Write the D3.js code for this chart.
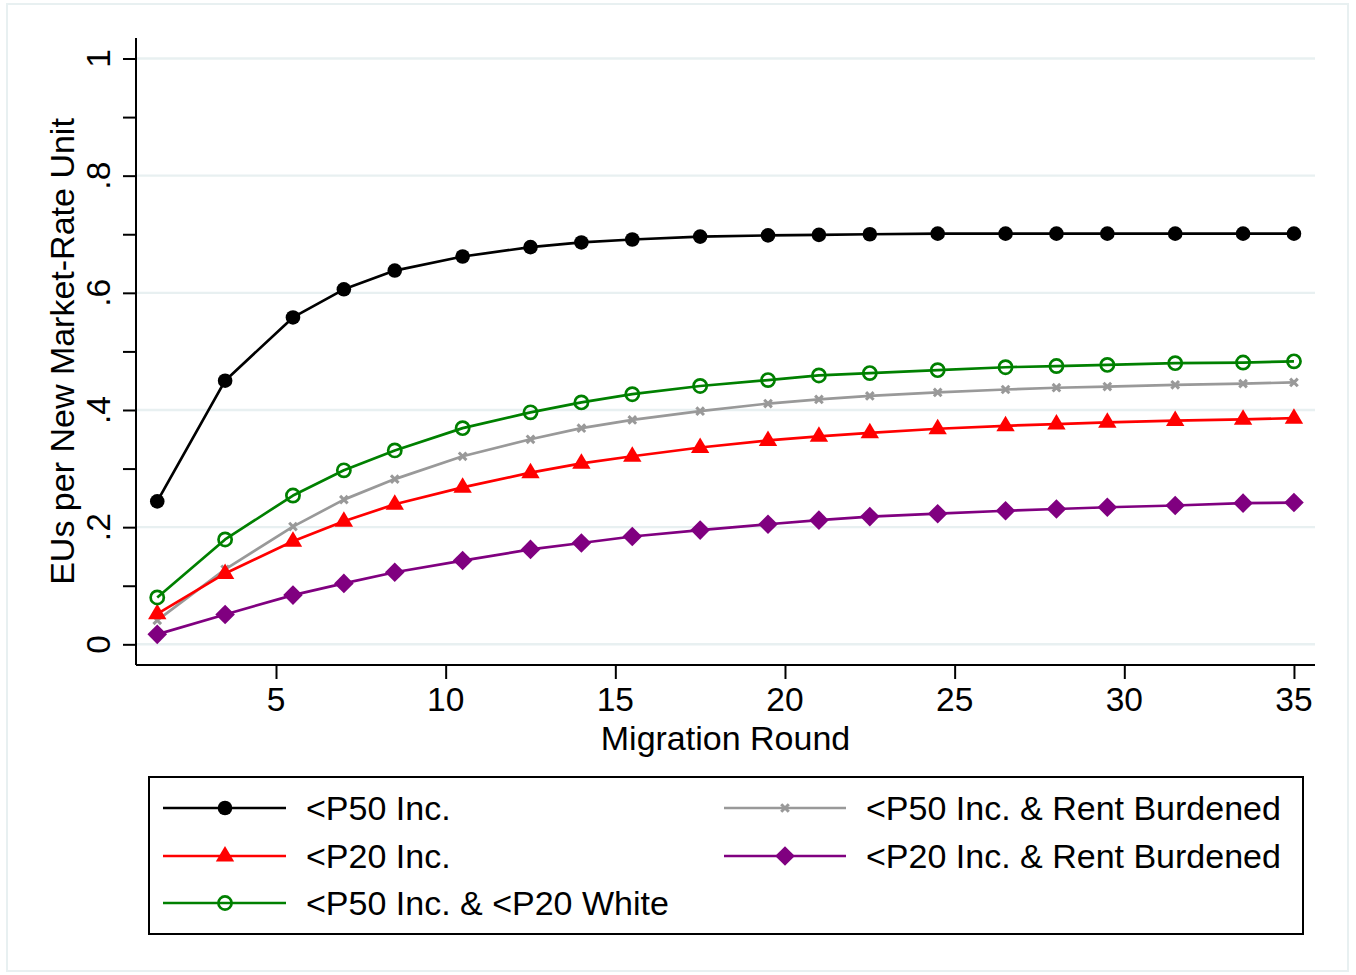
<!DOCTYPE html>
<html>
<head>
<meta charset="utf-8">
<script src="https://cdn.jsdelivr.net/npm/d3@7"></script>
<style>
  html, body { margin: 0; padding: 0; background: #fff; }
  svg text { font-family: "Liberation Sans", Arial, Helvetica, sans-serif; fill: #000; }
</style>
</head>
<body>
<svg id="chart" width="1356" height="975"></svg>
<script>
// ---- data ----
const rounds = [1.5, 3.5, 5.5, 7, 8.5, 10.5, 12.5, 14, 15.5, 17.5, 19.5, 21, 22.5, 24.5, 26.5, 28, 29.5, 31.5, 33.5, 35];
const p50Inc = [0.244, 0.450, 0.558, 0.606, 0.638, 0.662, 0.678, 0.686, 0.691, 0.696, 0.698, 0.699, 0.700, 0.701, 0.701, 0.701, 0.701, 0.701, 0.701, 0.701];
const p50RentBurdened = [0.041, 0.128, 0.201, 0.247, 0.282, 0.321, 0.350, 0.369, 0.383, 0.398, 0.411, 0.418, 0.424, 0.430, 0.435, 0.438, 0.440, 0.443, 0.445, 0.447];
const p20Inc = [0.052, 0.121, 0.176, 0.210, 0.239, 0.268, 0.293, 0.309, 0.321, 0.336, 0.348, 0.355, 0.361, 0.368, 0.373, 0.376, 0.379, 0.382, 0.384, 0.386];
const p20RentBurdened = [0.017, 0.051, 0.084, 0.104, 0.123, 0.143, 0.162, 0.173, 0.184, 0.195, 0.205, 0.212, 0.218, 0.223, 0.228, 0.231, 0.234, 0.237, 0.241, 0.242];
const p50P20White = [0.080, 0.179, 0.254, 0.297, 0.331, 0.369, 0.396, 0.413, 0.427, 0.441, 0.451, 0.459, 0.463, 0.468, 0.473, 0.475, 0.477, 0.480, 0.481, 0.483];

const seriesNames = ["<P50 Inc.", "<P50 Inc. & Rent Burdened", "<P20 Inc.", "<P20 Inc. & Rent Burdened", "<P50 Inc. & <P20 White"];
const xTicks = [5, 10, 15, 20, 25, 30, 35];
const yMajorTicks = [0, 0.2, 0.4, 0.6, 0.8, 1];
const yTickLabels = ["0", ".2", ".4", ".6", ".8", "1"];
const yMinorTicks = [0.1, 0.3, 0.5, 0.7, 0.9];
const xTitle = "Migration Round";
const yTitle = "EUs per New Market-Rate Unit";

// ---- styles ----
const styles = [
  { color: "#000000", marker: "circle" },
  { color: "#999999", marker: "x" },
  { color: "#ff0000", marker: "triangle" },
  { color: "#800080", marker: "diamond" },
  { color: "#008000", marker: "hollow" }
];
const seriesValues = [p50Inc, p50RentBurdened, p20Inc, p20RentBurdened, p50P20White];

const svg = d3.select("#chart");
const gridColor = "#e8f0f1";
const FS = 33.5;
const FS2 = 34;

// outer frame
svg.append("rect").attr("x", 7).attr("y", 4).attr("width", 1341).attr("height", 967)
  .attr("fill", "#fff").attr("stroke", gridColor).attr("stroke-width", 2);

const plot = { left: 136, right: 1315, top: 38, bottom: 665 };
const x = d3.scaleLinear().domain([0.874, 35.62]).range([plot.left, plot.right]);
const y = d3.scaleLinear().domain([-0.0353, 1.035]).range([plot.bottom, plot.top]);

// gridlines
svg.append("g").selectAll("line").data(yMajorTicks).join("line")
  .attr("x1", plot.left + 1).attr("x2", plot.right)
  .attr("y1", d => y(d)).attr("y2", d => y(d))
  .attr("stroke", gridColor).attr("stroke-width", 2.4);

// y axis
const yAxisG = svg.append("g").attr("transform", `translate(${plot.left},0)`)
  .call(d3.axisLeft(y).tickValues(yMajorTicks.concat(yMinorTicks)).tickSize(13).tickFormat(""));
yAxisG.select(".domain").attr("d", `M0,${plot.top}V${plot.bottom}`).attr("stroke", "#000").attr("stroke-width", 2);
yAxisG.selectAll(".tick line").attr("stroke", "#000").attr("stroke-width", 2);
svg.append("g").selectAll("text").data(yMajorTicks).join("text")
  .attr("transform", d => `translate(110,${y(d)}) rotate(-90)`)
  .attr("text-anchor", "middle").attr("font-size", FS)
  .text((d, i) => yTickLabels[i]);

// x axis
const xAxisG = svg.append("g").attr("transform", `translate(0,${plot.bottom})`)
  .call(d3.axisBottom(x).tickValues(xTicks).tickSize(14).tickFormat(""));
xAxisG.select(".domain").attr("d", `M${plot.left},0H${plot.right}`).attr("stroke", "#000").attr("stroke-width", 2);
xAxisG.selectAll(".tick line").attr("stroke", "#000").attr("stroke-width", 2);
svg.append("g").selectAll("text").data(xTicks).join("text")
  .attr("x", d => x(d)).attr("y", 711)
  .attr("text-anchor", "middle").attr("font-size", FS)
  .text(d => d);

// titles
svg.append("text").attr("x", (plot.left + plot.right) / 2).attr("y", 750)
  .attr("text-anchor", "middle").attr("font-size", FS2).text(xTitle);
svg.append("text").attr("transform", `translate(74,${(plot.top + plot.bottom) / 2}) rotate(-90)`)
  .attr("text-anchor", "middle").attr("font-size", FS2).text(yTitle);

// marker drawing
function drawMarker(g, type, color) {
  if (type === "circle") {
    g.append("circle").attr("r", 7.3).attr("fill", color);
  } else if (type === "hollow") {
    g.append("circle").attr("r", 6.6).attr("fill", "none").attr("stroke", color).attr("stroke-width", 2.7);
  } else if (type === "triangle") {
    g.append("path").attr("d", "M0,-10L9.2,5.5L-9.2,5.5Z").attr("fill", color);
  } else if (type === "diamond") {
    g.append("path").attr("d", "M0,-9.8L9.8,0L0,9.8L-9.8,0Z").attr("fill", color);
  } else if (type === "x") {
    g.append("path").attr("d", "M-3.8,-3.8L3.8,3.8M-3.8,3.8L3.8,-3.8")
      .attr("stroke", color).attr("stroke-width", 3).attr("fill", "none");
  }
}

const line = d3.line().x(d => x(d[0])).y(d => y(d[1]));
seriesValues.forEach((vals, si) => {
  const pts = rounds.map((r, i) => [r, vals[i]]);
  const g = svg.append("g");
  g.append("path").datum(pts).attr("d", line)
    .attr("fill", "none").attr("stroke", styles[si].color).attr("stroke-width", 2.7)
    .attr("stroke-linejoin", "round");
  pts.forEach(p => {
    const mg = g.append("g").attr("transform", `translate(${x(p[0])},${y(p[1])})`);
    drawMarker(mg, styles[si].marker, styles[si].color);
  });
});

// legend
svg.append("rect").attr("x", 149).attr("y", 777).attr("width", 1154).attr("height", 157)
  .attr("fill", "#fff").attr("stroke", "#000").attr("stroke-width", 2);
const legendPos = [
  { lx1: 163, lx2: 286, mx: 225, tx: 306, cy: 808 },
  { lx1: 724, lx2: 846, mx: 785, tx: 866, cy: 808 },
  { lx1: 163, lx2: 286, mx: 225, tx: 306, cy: 856 },
  { lx1: 724, lx2: 846, mx: 785, tx: 866, cy: 856 },
  { lx1: 163, lx2: 286, mx: 225, tx: 306, cy: 903 }
];
seriesNames.forEach((name, i) => {
  const p = legendPos[i];
  const g = svg.append("g");
  g.append("line").attr("x1", p.lx1).attr("x2", p.lx2).attr("y1", p.cy).attr("y2", p.cy)
    .attr("stroke", styles[i].color).attr("stroke-width", 2.7);
  const mg = g.append("g").attr("transform", `translate(${p.mx},${p.cy})`);
  drawMarker(mg, styles[i].marker, styles[i].color);
  g.append("text").attr("x", p.tx).attr("y", p.cy + 12).attr("font-size", FS2).text(name);
});
</script>
</body>
</html>
